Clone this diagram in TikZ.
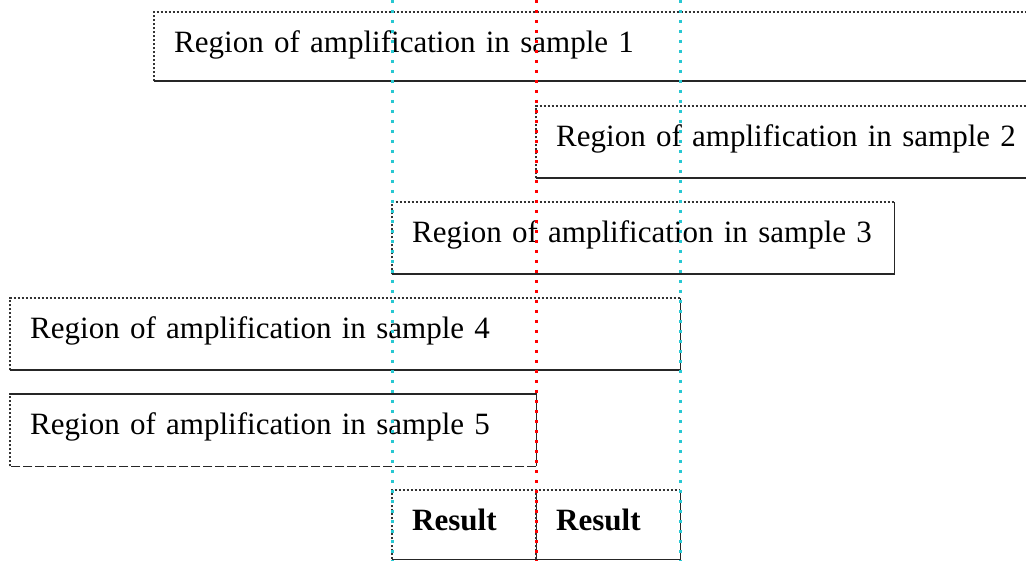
\documentclass[tikz,border=0pt]{standalone}
\usepackage{fontspec}
\setmainfont{Liberation Serif}
\definecolor{guidec}{RGB}{40,200,210}
\begin{document}
\begin{tikzpicture}[x=1pt,y=-1pt,
  region/.style={anchor=north west, inner xsep=20pt, inner ysep=0pt,
    align=left, text height=40pt, font=\fontsize{31}{35}\selectfont},
  edgedot/.style={draw=black!80, line width=2pt, dash pattern=on 2pt off 2pt},
  edgesolid/.style={draw=black!85, line width=1.8pt},
  edgedash/.style={draw=black!85, line width=1.8pt, dash pattern=on 9pt off 3pt},
  guidecyan/.style={draw=guidec, line width=3pt, dash pattern=on 3pt off 7pt},
  guidered/.style={draw=red, line width=3pt, dash pattern=on 3pt off 7pt}]
\useasboundingbox (0,0) rectangle (1026,561);

% sample regions
\node[region, text width=836pt, text depth=29pt] (b1) at (154,12) {Region of amplification in sample 1};
\node[region, text width=460pt, text depth=32pt] (b2) at (536,106) {Region of amplification in sample 2};
\node[region, text width=462pt, text depth=32pt] (b3) at (392,202) {Region of amplification in sample 3};
\node[region, text width=630pt, text depth=32pt] (b4) at (10,298) {Region of amplification in sample 4};
\node[region, text width=486pt, text depth=32pt] (b5) at (10,394) {Region of amplification in sample 5};

% result cells
\node[region, text width=104pt, text depth=29pt, font=\fontsize{31}{35}\selectfont\bfseries] (r1) at (392,490) {Result};
\node[region, text width=104pt, text depth=29pt, font=\fontsize{31}{35}\selectfont\bfseries] (r2) at (536,490) {Result};

% box outlines: dotted top and left, solid bottom and right
\foreach \b in {b1,b2} {
  \draw[edgedot] (\b.south west) |- (\b.north east);
  \draw[edgesolid] (\b.south west) -- (\b.south east);
}
\foreach \b in {b3,b4,r1,r2} {
  \draw[edgedot] (\b.south west) |- (\b.north east);
  \draw[edgesolid] (\b.north east) |- (\b.south west);
}
\draw[edgedot] (b5.south west) |- (b5.north east);
\draw[edgesolid] (b5.north west) -| (b5.south east);
\draw[edgedash] (b5.south east) -- (b5.south west);

% guide lines
\coordinate (c1t) at (392,0);  \coordinate (c1b) at (392,561);
\coordinate (rt)  at (536,0);  \coordinate (rb)  at (536,561);
\coordinate (c2t) at (680,0);  \coordinate (c2b) at (680,561);
\draw[guidecyan] (c1t) -- (c1b);
\draw[guidecyan] (c2t) -- (c2b);
\draw[guidered] (rt) -- (rb);
\end{tikzpicture}
\end{document}
